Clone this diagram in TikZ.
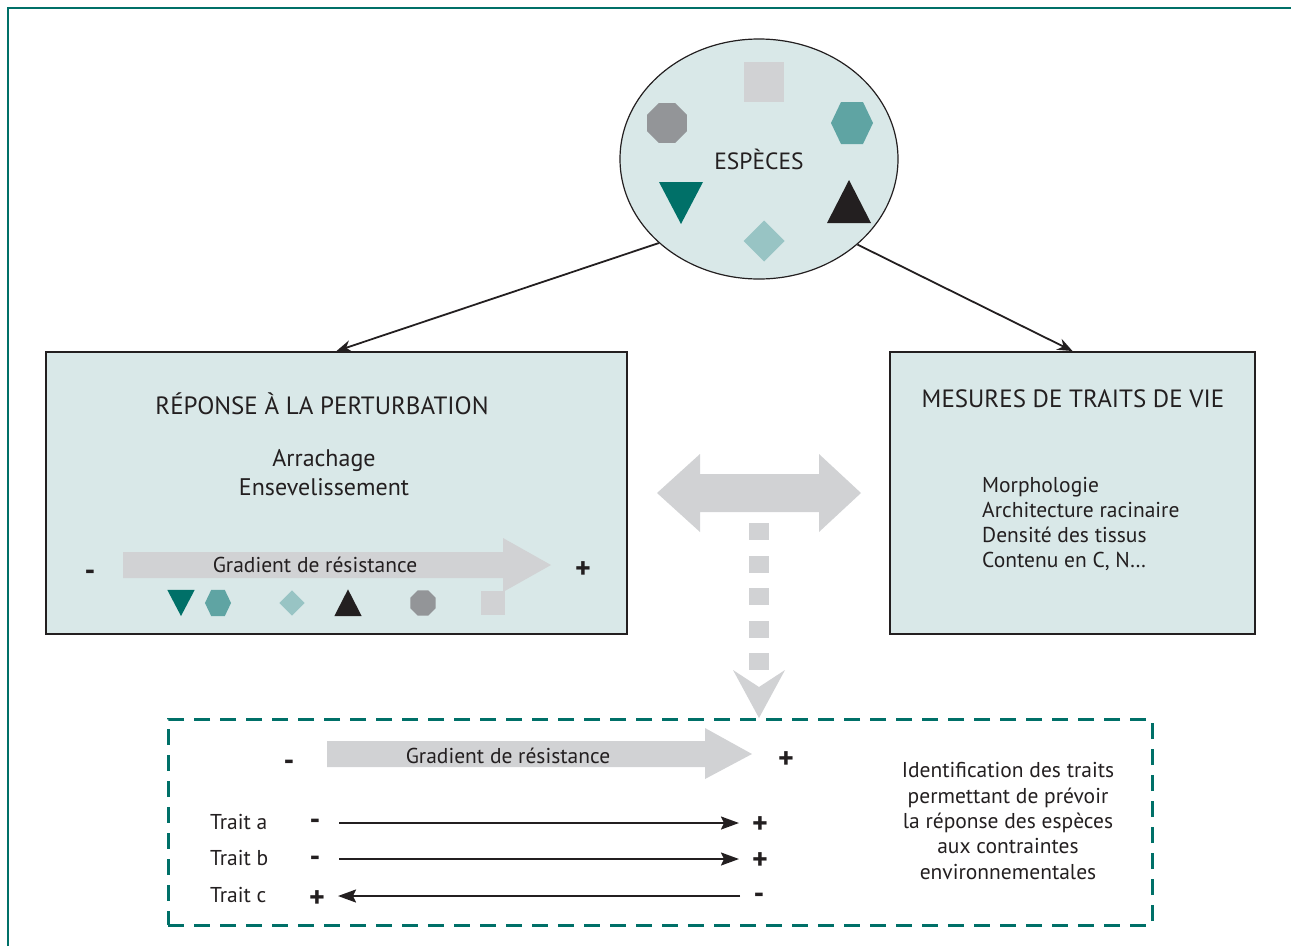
\documentclass[tikz,border=0pt]{standalone}
\usepackage{fontspec}
\setmainfont{PT Sans}
\usetikzlibrary{arrows.meta,shapes.geometric}
\definecolor{bgfill}{RGB}{217,232,232}
\definecolor{tealdark}{RGB}{0,112,104}
\definecolor{tealmid}{RGB}{95,164,163}
\definecolor{teallight}{RGB}{152,196,196}
\definecolor{graymid}{RGB}{147,149,152}
\definecolor{graylight}{RGB}{209,210,212}
\definecolor{ink}{RGB}{35,31,32}
\tikzset{
  pics/tridown/.style={code={\fill[pic actions] (-22,-21) -- (22,-21) -- (0,21) -- cycle;}},
  pics/triup/.style={code={\fill[pic actions] (-22,21) -- (22,21) -- (0,-22) -- cycle;}},
  pics/hexa/.style={code={\fill[pic actions] (-21,0) -- (-11,-21) -- (11,-21) -- (21,0) -- (11,21) -- (-11,21) -- cycle;}},
  pics/sq/.style={code={\fill[pic actions] (-20,-20) rectangle (20,20);}},
  pics/diam/.style={code={\fill[pic actions] (-20.5,0) -- (0,-20.5) -- (20.5,0) -- (0,20.5) -- cycle;}},
  pics/octa/.style={code={\fill[pic actions] (19.9,8.2) -- (8.2,19.9) -- (-8.2,19.9) -- (-19.9,8.2) -- (-19.9,-8.2) -- (-8.2,-19.9) -- (8.2,-19.9) -- (19.9,-8.2) -- cycle;}},
  box/.style={draw=ink, fill=bgfill, line width=2pt, inner sep=0pt},
  conn/.style={draw=ink, line width=1.8pt, -{Stealth[length=15pt,width=12pt]}},
  trarrow/.style={draw=ink, line width=2pt, -{Stealth[length=18pt,width=13pt,inset=3pt]}},
  lbl/.style={text=ink, font=\fontsize{21.5}{25.3}\selectfont, inner sep=0pt},
  title/.style={text=ink, font=\fontsize{25}{28}\selectfont, inner sep=0pt},
  sign/.style={text=ink, font=\fontsize{30}{32}\selectfont\bfseries, inner sep=0pt},
  minus/.style={sign, yshift=-5pt},
  grad/.style={fill=graylight},
}
\begin{document}
\begin{tikzpicture}[x=1pt,y=-1pt]
\useasboundingbox (0,0) rectangle (1291,946);
% outer frame
\draw[tealdark, line width=2pt] (8,946) -- (8,8) -- (1291,8);

% species ellipse
\node[ellipse, draw=ink, fill=bgfill, line width=1.2pt, minimum width=278pt, minimum height=240pt, inner sep=0pt, text=ink, font=\fontsize{23.5}{26}\selectfont] (esp) at (759,159) {ESPÈCES};
\pic[fill=graylight] at (764,82) {sq};
\pic[fill=graymid] at (667,123) {octa};
\pic[fill=tealmid] at (852,123) {hexa};
\pic[fill=tealdark] at (681,203) {tridown};
\pic[fill=teallight] at (764,241) {diam};
\pic[fill=ink] at (849,202) {triup};

% boxes
\node[box, minimum width=581pt, minimum height=282pt] (lbox) at (336.5,493) {};
\node[box, minimum width=365pt, minimum height=282pt] (rbox) at (1072.5,493) {};

\draw[conn] (esp.220) -- (lbox.north);
\draw[conn] (esp.319) -- (rbox.north);

% left box content
\node[title] (ltitle) at (322,404) {RÉPONSE À LA PERTURBATION};
\node[lbl, align=center, font=\fontsize{24}{29}\selectfont] (lsub) at (324,473) {Arrachage\\Ensevelissement};
\fill[grad] (123,552) -- (503,552) -- (503,538) -- (551,565) -- (503,592) -- (503,578) -- (123,578) -- cycle;
\node[lbl] (lgrad) at (315,565) {Gradient de résistance};
\node[minus] (lminus) at (90,570) {-};
\node[sign] (lplus) at (583,570) {+};
\pic[fill=tealdark, scale=0.62] at (181,603) {tridown};
\pic[fill=tealmid, scale=0.62] at (218,603) {hexa};
\pic[fill=teallight, scale=0.62] at (292,603) {diam};
\pic[fill=ink, scale=0.62] at (348,603) {triup};
\pic[fill=graymid, scale=0.64] at (423,603) {octa};
\pic[fill=graylight, scale=0.62] at (493,603) {sq};

% right box content
\node[title] (rtitle) at (1073,399) {MESURES DE TRAITS DE VIE};
\node[lbl, align=left, anchor=west] (rlist) at (982,524) {Morphologie\\Architecture racinaire\\Densité des tissus\\Contenu en C, N…};

% double arrow
\fill[grad] (657,493) -- (700,454) -- (700,474) -- (819,474) -- (819,454) -- (861,493) -- (819,532) -- (819,512) -- (700,512) -- (700,532) -- cycle;
% dotted arrow
\foreach \yy in {523,556,588,621,653} {\fill[grad] (749,\yy) rectangle (769,\yy+17);}
\fill[grad] (733,670) -- (759,687) -- (785,670) -- (759,718) -- cycle;

% result box
\node[draw=tealdark, line width=3pt, dash pattern=on 16pt off 10pt, minimum width=984pt, minimum height=206pt, inner sep=0pt] (res) at (660,822) {};
\fill[grad] (327,741) -- (705,741) -- (705,728) -- (752,754) -- (705,779) -- (705,767) -- (327,767) -- cycle;
\node[lbl] (bgrad) at (508,756) {Gradient de résistance};
\node[minus] (bminus) at (289,760) {-};
\node[sign] (bplus) at (786,760) {+};

\node[lbl, anchor=west] (ta) at (210,822) {Trait a};
\node[lbl, anchor=west] (tb) at (210,858) {Trait b};
\node[lbl, anchor=west] (tc) at (210,895) {Trait c};
\node[minus] (am) at (315,819) {-};
\node[sign] (ap) at (760,825) {+};
\node[minus] (bm) at (315,856) {-};
\node[sign] (bp) at (760,861) {+};
\node[sign] (cp) at (317,899) {+};
\node[minus] (cm) at (759,893) {-};
\coordinate (a0) at (339,823); \coordinate (a1) at (739,823);
\coordinate (b0) at (339,859); \coordinate (b1) at (739,859);
\coordinate (c0) at (740,896); \coordinate (c1) at (338,896);
\draw[trarrow] (a0) -- (a1);
\draw[trarrow] (b0) -- (b1);
\draw[trarrow] (c0) -- (c1);

\node[lbl, align=center] (ident) at (1008,821) {Identification des traits\\permettant de prévoir\\la réponse des espèces\\aux contraintes\\environnementales};
\end{tikzpicture}
\end{document}
